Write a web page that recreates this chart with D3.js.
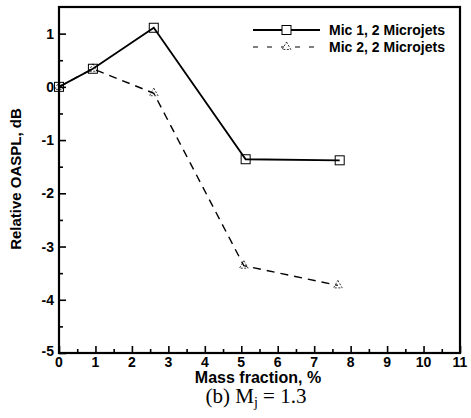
<!DOCTYPE html>
<html>
<head>
<meta charset="utf-8">
<script src="https://cdn.jsdelivr.net/npm/d3@7"></script>
<style>
  body { margin: 0; background: #fff; }
  text { font-family: Arial, "Liberation Sans", sans-serif; }
</style>
</head>
<body>
<div class="chart"></div>
<script>
// values
var massFraction1 = [0, 0.93, 2.6, 5.12, 7.7];
var oaspl1 = [0, 0.34, 1.11, -1.36, -1.38];
var massFraction2 = [0, 0.93, 2.6, 5.07, 7.65];
var oaspl2 = [0, 0.34, -0.12, -3.36, -3.73];
var seriesNames = ["Mic 1, 2 Microjets", "Mic 2, 2 Microjets"];
var xTicks = [0, 1, 2, 3, 4, 5, 6, 7, 8, 9, 10, 11];
var yTicks = [-5, -4, -3, -2, -1, 0, 1];

var margin = {top: 7, right: 11, bottom: 65, left: 59},
    width = 471 - margin.left - margin.right,
    height = 418 - margin.top - margin.bottom;

var svg = d3.select(".chart").append("svg")
    .attr("width", 471)
    .attr("height", 418)
  .append("g")
    .attr("transform", "translate(" + margin.left + "," + margin.top + ")");

var x = d3.scaleLinear().domain([0, 11]).range([0, width]);
var y = d3.scaleLinear().domain([-5, 1.5]).range([height, 0]);

var minorX = d3.range(0.5, 11, 1);
var minorY = d3.range(-4.5, 1.5, 1);

// ticks point inward
var xAxis = d3.axisTop(x).tickValues(xTicks).tickSize(7).tickFormat("");
var xMinor = d3.axisTop(x).tickValues(minorX).tickSize(4).tickFormat("");
var yAxis = d3.axisRight(y).tickValues(yTicks).tickSize(7).tickFormat("");
var yMinor = d3.axisRight(y).tickValues(minorY).tickSize(4).tickFormat("");

svg.append("g").attr("transform", "translate(0," + height + ")").call(xAxis);
svg.append("g").attr("transform", "translate(0," + height + ")").call(xMinor);
svg.append("g").call(yAxis);
svg.append("g").call(yMinor);
svg.selectAll(".domain").remove();
svg.selectAll(".tick line").attr("stroke", "#000").attr("stroke-width", 1.6);

svg.append("rect")
    .attr("width", width)
    .attr("height", height)
    .attr("fill", "none")
    .attr("stroke", "#000")
    .attr("stroke-width", 2.2);

// tick labels
svg.selectAll(".xlab")
    .data(xTicks)
  .enter().append("text")
    .attr("x", function(d){ return x(d); })
    .attr("y", height + 14)
    .attr("text-anchor", "middle")
    .style("font-size", "14px")
    .style("font-weight", "bold")
    .text(function(d){ return d; });

svg.selectAll(".ylab")
    .data(yTicks)
  .enter().append("text")
    .attr("x", -5)
    .attr("y", function(d){ return y(d) + 5 - (d == -5 ? 2 : 0); })
    .attr("text-anchor", "end")
    .style("font-size", "14px")
    .style("font-weight", "bold")
    .text(function(d){ return d; });

var line = d3.line()
    .x(function(d){ return x(d[0]); })
    .y(function(d){ return y(d[1]); });

var data1 = d3.zip(massFraction1, oaspl1);
var data2 = d3.zip(massFraction2, oaspl2);

svg.append("path")
    .datum(data2)
    .attr("d", line)
    .attr("fill", "none")
    .attr("stroke", "#000")
    .attr("stroke-width", 1.4)
    .attr("stroke-dasharray", "8,6");

svg.append("path")
    .datum(data1)
    .attr("d", line)
    .attr("fill", "none")
    .attr("stroke", "#000")
    .attr("stroke-width", 1.8);

var tri = d3.symbol().type(d3.symbolTriangle).size(32);

svg.selectAll(".tri")
    .data(data2)
  .enter().append("path")
    .attr("d", tri)
    .attr("transform", function(d){ return "translate(" + x(d[0]) + "," + y(d[1]) + ")"; })
    .attr("fill", "none")
    .attr("stroke", "#000")
    .attr("stroke-width", 0.8)
    .attr("stroke-dasharray", "2,1.5");

svg.selectAll(".sq")
    .data(data1)
  .enter().append("rect")
    .attr("x", function(d){ return x(d[0]) - 4.5; })
    .attr("y", function(d){ return y(d[1]) - 4.5; })
    .attr("width", 9)
    .attr("height", 9)
    .attr("fill", "none")
    .attr("stroke", "#000")
    .attr("stroke-width", 1);

// legend
var legend = svg.append("g").attr("transform", "translate(194,0)");
var rows = [23, 40];

legend.append("line")
    .attr("x1", 0).attr("x2", 67)
    .attr("y1", rows[0]).attr("y2", rows[0])
    .attr("stroke", "#000").attr("stroke-width", 1.8);
legend.append("rect")
    .attr("x", 29).attr("y", rows[0] - 4.5)
    .attr("width", 9).attr("height", 9)
    .attr("fill", "#fff").attr("stroke", "#000").attr("stroke-width", 1);

legend.append("line")
    .attr("x1", 0).attr("x2", 67)
    .attr("y1", rows[1]).attr("y2", rows[1])
    .attr("stroke", "#000").attr("stroke-width", 1.2)
    .attr("stroke-dasharray", "5,9");
legend.append("path")
    .attr("d", tri)
    .attr("transform", "translate(33.5," + rows[1] + ")")
    .attr("fill", "#fff")
    .attr("stroke", "#000")
    .attr("stroke-width", 0.8)
    .attr("stroke-dasharray", "2,1.5");

legend.selectAll(".ltext")
    .data(seriesNames)
  .enter().append("text")
    .attr("x", 76)
    .attr("y", function(d, i){ return rows[i] + 5; })
    .style("font-size", "14px")
    .style("font-weight", "bold")
    .text(function(d){ return d; });

// axis titles
svg.append("text")
    .attr("text-anchor", "middle")
    .attr("transform", "translate(" + (-38) + "," + (172) + ")rotate(-90)")
    .style("font-size", "15px")
    .style("font-weight", "bold")
    .text("Relative OASPL, dB");

svg.append("text")
    .attr("text-anchor", "middle")
    .attr("x", 199)
    .attr("y", height + 30)
    .style("font-size", "16px")
    .style("font-weight", "bold")
    .text("Mass fraction, %");

var cap = svg.append("text")
    .attr("text-anchor", "middle")
    .attr("x", 197)
    .attr("y", height + 50)
    .style("font-family", "'Liberation Serif', 'Times New Roman', serif")
    .style("font-size", "21px");
cap.append("tspan").text("(b) M");
cap.append("tspan").attr("dy", 4).style("font-size", "14px").text("j");
cap.append("tspan").attr("dy", -4).text(" = 1.3");
</script>
</body>
</html>
